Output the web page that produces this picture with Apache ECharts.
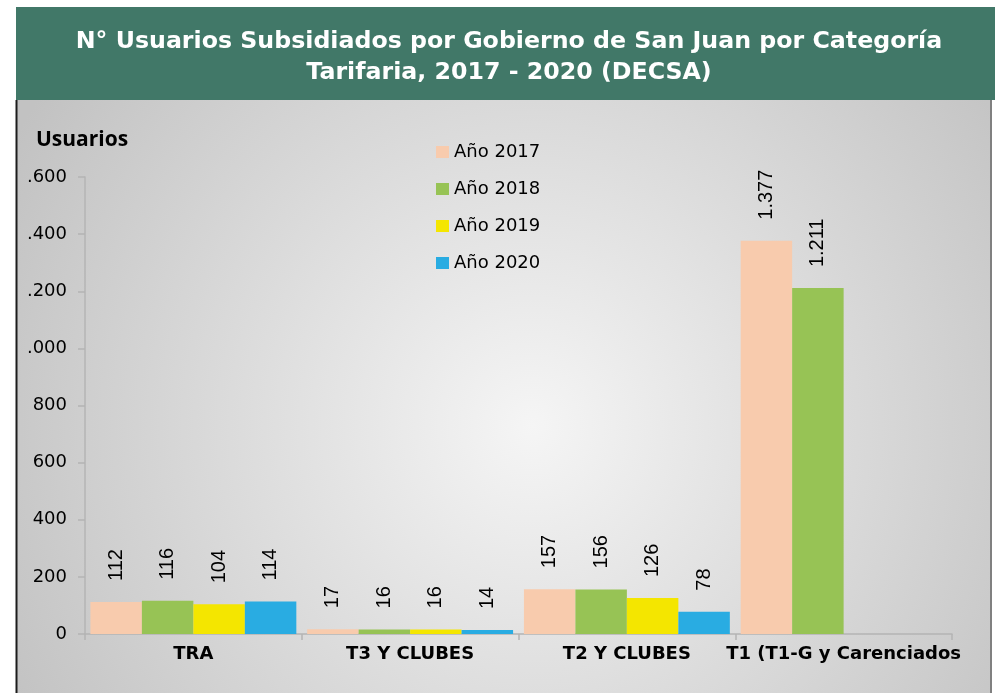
<!DOCTYPE html>
<html>
<head>
<meta charset="utf-8">
<script src="https://cdn.jsdelivr.net/npm/echarts@6/dist/echarts.min.js"></script>
<style>html,body{margin:0;padding:0;background:#fff;}#chart{width:995px;height:693px;}</style>
</head>
<body>
<div id="chart"></div>
<script>
const titleText = 'N° Usuarios Subsidiados por Gobierno de San Juan por Categoría\nTarifaria, 2017 - 2020 (DECSA)';
const yAxisTitle = 'Usuarios';
const categories = ['TRA', 'T3 Y CLUBES', 'T2 Y CLUBES', 'T1 (T1-G y Carenciados'];
const seriesNames = ['Año 2017', 'Año 2018', 'Año 2019', 'Año 2020'];
const values2017 = [112, 17, 157, 1377];
const values2018 = [116, 16, 156, 1211];
const values2019 = [104, 16, 126, null];
const values2020 = [114, 14, 78, null];
const seriesColors = ['#F8CBAD', '#97C355', '#F4E600', '#29ACE2'];
const yMin = 0, yMax = 1600, yStep = 200;

function fmt(v) {
  const s = String(Math.round(v));
  return s.replace(/\B(?=(\d{3})+(?!\d))/g, '.');
}

const chart = echarts.init(document.getElementById('chart'));
const allValues = [values2017, values2018, values2019, values2020];
const FONT = 'DejaVu Sans';

chart.setOption({
  animation: false,
  graphic: [
    { type: 'rect', z: -10, silent: true, shape: { x: 16, y: 7, width: 979, height: 93 }, style: { fill: '#417868' } },
    { type: 'rect', z: -10, silent: true, shape: { x: 16, y: 100, width: 974, height: 593 },
      style: { fill: new echarts.graphic.RadialGradient(0.53, 0.55, 1.0, [
        { offset: 0, color: '#f5f5f5' }, { offset: 1, color: '#c2c2c2' }]) } },
    { type: 'line', z: -9, silent: true, shape: { x1: 16.5, y1: 100, x2: 16.5, y2: 693 }, style: { stroke: '#1c1c1c', lineWidth: 2 } },
    { type: 'line', z: -9, silent: true, shape: { x1: 991, y1: 100, x2: 991, y2: 693 }, style: { stroke: '#808080', lineWidth: 2 } }
  ],
  title: {
    text: titleText,
    left: 504, top: 21, textAlign: 'center',
    textStyle: { color: '#ffffff', fontFamily: FONT, fontWeight: 'bold', fontSize: 23.7, lineHeight: 31 }
  },
  legend: {
    orient: 'vertical', left: 436, top: 142, padding: 0,
    itemWidth: 13, itemHeight: 12, itemGap: 17,
    icon: 'rect',
    data: seriesNames,
    textStyle: { color: '#000', fontFamily: FONT, fontSize: 18, lineHeight: 20 }
  },
  grid: { left: 85, right: 43, top: 177, bottom: 59, containLabel: false, outerBoundsMode: 'none' },
  xAxis: {
    type: 'category', data: categories,
    axisLine: { lineStyle: { color: '#b4b4b4', width: 1.5 } },
    axisTick: { show: true, length: 6, lineStyle: { color: '#b4b4b4', width: 1.5 } },
    axisLabel: { interval: 0, margin: 11, color: '#000', fontFamily: FONT, fontWeight: 'bold', fontSize: 18 }
  },
  yAxis: {
    type: 'value', min: yMin, max: yMax, interval: yStep,
    name: yAxisTitle, nameLocation: 'end', nameGap: 26,
    nameTextStyle: { color: '#000', fontFamily: 'Open Sans', fontWeight: 'bold', fontSize: 21, align: 'center', padding: [0, 6, 0, 0] },
    axisLine: { show: true, lineStyle: { color: '#b4b4b4', width: 1.5 } },
    axisTick: { show: true, length: 7, lineStyle: { color: '#b4b4b4', width: 1.5 } },
    splitLine: { show: false },
    axisLabel: {
      margin: 18, color: '#000', fontFamily: FONT, fontSize: 18,
      formatter: function (v) {
        const s = fmt(v);
        if (v >= 1000) return '{h|' + s.slice(0, s.indexOf('.')) + '}' + s.slice(s.indexOf('.'));
        return s;
      },
      rich: { h: { color: 'rgba(0,0,0,0)', fontFamily: FONT, fontSize: 18 } }
    }
  },
  series: seriesNames.map((name, i) => ({
    name: name, type: 'bar', data: allValues[i],
    barGap: '0%', barCategoryGap: '5%',
    itemStyle: { color: seriesColors[i] },
    label: {
      show: true, position: 'top', rotate: 90, align: 'left', verticalAlign: 'middle', distance: 21,
      color: '#000', fontFamily: 'Liberation Sans', fontSize: 20,
      formatter: p => (p.value == null ? '' : fmt(p.value))
    }
  }))
});
</script>
</body>
</html>
